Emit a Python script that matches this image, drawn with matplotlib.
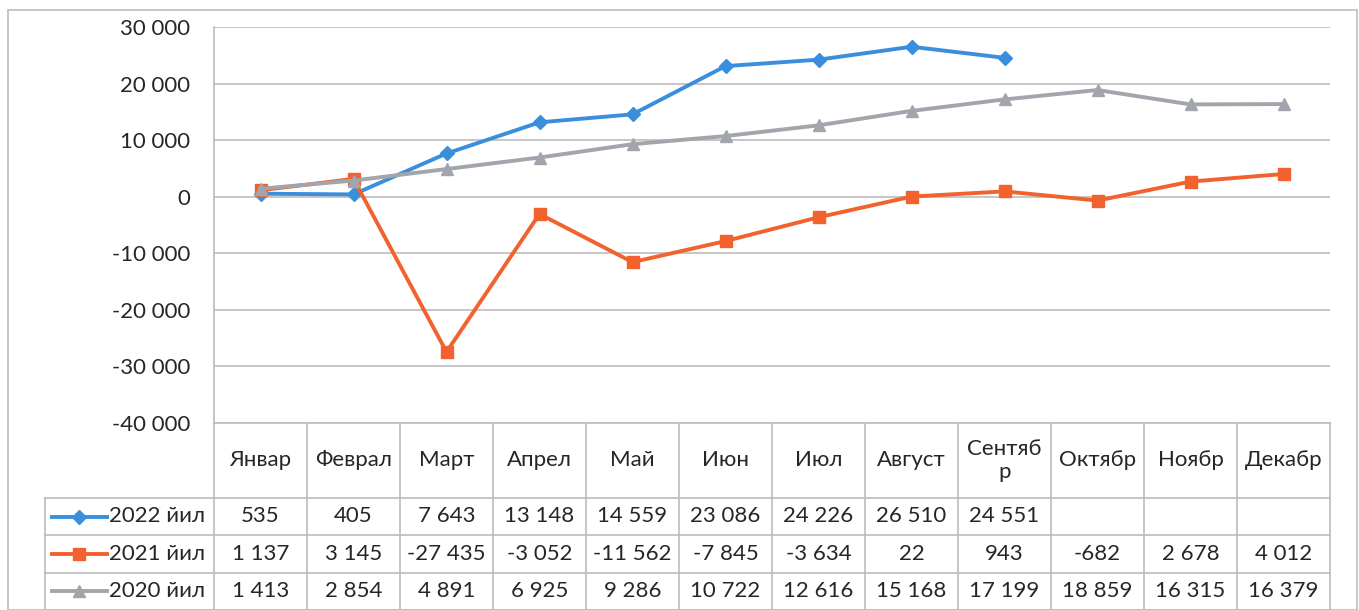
import matplotlib.pyplot as plt
from matplotlib.patches import Rectangle
import numpy as np

plt.rcParams['font.family'] = ['Lato', 'Noto Sans', 'DejaVu Sans']

months = ['Январ', 'Феврал', 'Март', 'Апрел', 'Май', 'Июн', 'Июл',
          'Август', 'Сентяб\nр', 'Октябр', 'Ноябр', 'Декабр']
series_names = ['2022 йил', '2021 йил', '2020 йил']
y2022 = [535, 405, 7643, 13148, 14559, 23086, 24226, 26510, 24551]
y2021 = [1137, 3145, -27435, -3052, -11562, -7845, -3634, 22, 943, -682, 2678, 4012]
y2020 = [1413, 2854, 4891, 6925, 9286, 10722, 12616, 15168, 17199, 18859, 16315, 16379]
yticks = np.arange(-40000, 30001, 10000)

colors = ['#3a8fdc', '#f2622e', '#a2a5ab']
markers = ['D', 's', '^']
msizes = [7, 8.5, 8.5]
txt = '#262626'
gridc = '#bcbcbc'
fs = 16

W, H = 1359, 610
fig = plt.figure(figsize=(W / 100, H / 100), dpi=100)


def rect(l, t, r, b):
    return [l / W, (H - b) / H, (r - l) / W, (b - t) / H]


def fmt(v):
    s = f'{abs(v):,}'.replace(',', ' ')
    return ('-' if v < 0 else '') + s


# outer border
fig.patches.append(Rectangle((8 / W, 0), (1357 - 8) / W, (H - 10) / H,
                             transform=fig.transFigure, fill=False,
                             edgecolor='#bdbdbd', linewidth=1.2))

ax = fig.add_axes(rect(214, 27, 1330, 423))
ax.set_xlim(0, 12)
ax.set_ylim(-40000, 30000)
ax.set_yticks(yticks)
ax.set_yticklabels([fmt(v) for v in yticks], fontsize=fs, color=txt)
ax.tick_params(axis='y', length=0, pad=17)
ax.set_xticks([])
ax.grid(axis='y', color=gridc, linewidth=1.2)
ax.set_axisbelow(True)
for s in ['top', 'right', 'bottom']:
    ax.spines[s].set_visible(False)
ax.spines['left'].set_color(gridc)
ax.spines['left'].set_linewidth(1.2)

data = [y2022, y2021, y2020]
for vals, c, m, ms in zip(data, colors, markers, msizes):
    x = np.arange(len(vals)) + 0.5
    ax.plot(x, vals, color=c, linewidth=2.8, marker=m, markersize=ms,
            markeredgecolor=c)

# data table
lab_w = (214 - 45) / ((1330 - 214) / 12)
tb = fig.add_axes(rect(45, 423, 1330, 610))
tb.set_xlim(-lab_w, 12)
tb.set_ylim(5, 0)
tb.axis('off')

lk = dict(color=gridc, linewidth=1.2, clip_on=False)
# horizontal lines
tb.plot([0, 12], [0, 0], **lk)
for yy in [2, 3, 4, 5]:
    tb.plot([-lab_w, 12], [yy, yy], **lk)
# vertical lines
for xx in range(13):
    tb.plot([xx, xx], [0, 5], **lk)
tb.plot([-lab_w, -lab_w], [2, 5], **lk)

for i, mth in enumerate(months):
    tb.text(i + 0.5, 1.0, mth, ha='center', va='center', fontsize=fs,
            color=txt, linespacing=1.15)

for r, (name, vals, c, m, ms) in enumerate(zip(series_names, data, colors,
                                                markers, msizes)):
    yc = 2.5 + r
    x0, x1 = -lab_w + 0.07, -lab_w + 0.67
    tb.plot([x0, x1], [yc, yc], color=c, linewidth=2.8, clip_on=False)
    tb.plot([(x0 + x1) / 2], [yc], color=c, marker=m, markersize=ms,
            clip_on=False)
    tb.text(x1 + 0.02, yc, name, ha='left', va='center', fontsize=fs,
            color=txt)
    for i, v in enumerate(vals):
        tb.text(i + 0.5, yc, fmt(v), ha='center', va='center',
                fontsize=fs, color=txt)

fig.savefig('out.png', dpi=100)
